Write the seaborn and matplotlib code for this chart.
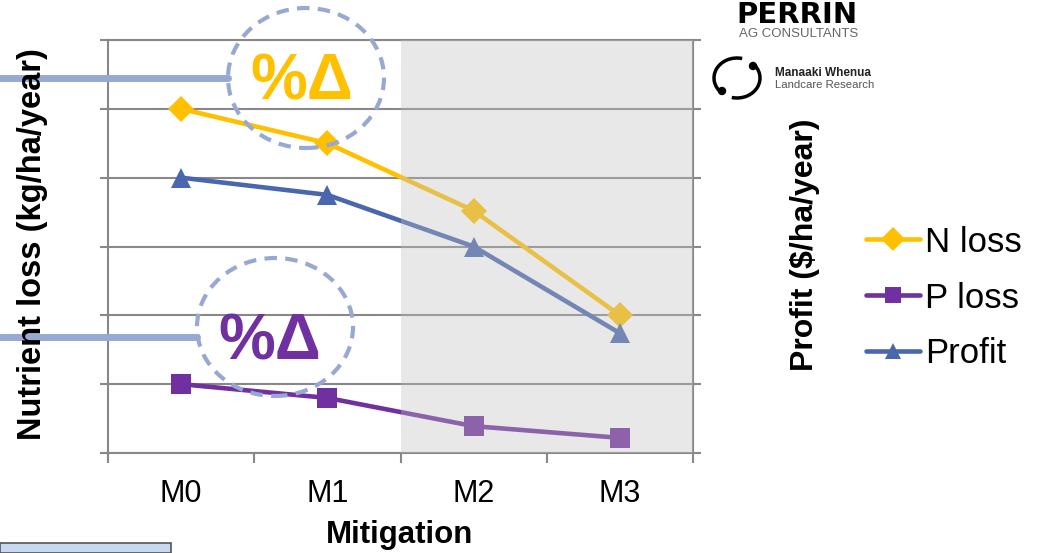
import numpy as np
import pandas as pd
import matplotlib
matplotlib.use("Agg")
import matplotlib.pyplot as plt
from matplotlib.patches import Ellipse, Rectangle, Arc, Circle
from matplotlib.lines import Line2D
import seaborn as sns

# ---- data ----
categories = ["M0", "M1", "M2", "M3"]
n_loss = [5.0, 4.5, 3.52, 2.0]
p_loss = [1.0, 0.8, 0.39, 0.22]
profit = [4.0, 3.75, 3.0, 1.74]
series_names = ["N loss", "P loss", "Profit"]
y_ticks = [0, 1, 2, 3, 4, 5, 6]

colors = {"N loss": "#FFC000", "P loss": "#7030A0", "Profit": "#4A66AC"}
markers = {"N loss": "D", "P loss": "s", "Profit": "^"}

df = pd.DataFrame({
    "Mitigation": categories * 3,
    "value": n_loss + p_loss + profit,
    "series": [s for s in series_names for _ in categories],
})

sns.set_theme(style="white")
plt.rcParams["font.family"] = ["Liberation Sans", "DejaVu Sans"]
plt.rcParams["text.color"] = "black"
plt.rcParams["xtick.labelcolor"] = "black"

W, H = 1043, 553
fig = plt.figure(figsize=(W / 100, H / 100), dpi=100)
ax = fig.add_axes([108 / W, 100 / H, 585 / W, 413 / H])

sns.lineplot(data=df, x="Mitigation", y="value", hue="series", style="series",
             palette=colors, markers=markers, dashes=False, linewidth=3.3,
             markersize=15, markeredgewidth=0, ax=ax, sort=False)
for ln in ax.lines:
    if ln.get_marker() == "D":
        ln.set_markersize(13)

handles, labels = ax.get_legend_handles_labels()
ax.get_legend().remove()

ax.set_xlim(-0.5, len(categories) - 0.5)
ax.set_ylim(y_ticks[0], y_ticks[-1])
ax.set_yticks(y_ticks)
ax.set_yticklabels([])
ax.set_xticks(range(len(categories)))
ax.set_xticklabels(categories, fontsize=22, color="black")
ax.set_xticks(np.arange(-0.5, len(categories)), minor=True)
ax.tick_params(axis="x", which="major", length=0, pad=19)
ax.tick_params(axis="x", which="minor", length=7, width=1.5, color="#888888", direction="out", bottom=True)
ax.tick_params(axis="y", which="major", length=6, width=1.5, color="#888888", direction="out",
               left=True, right=True)
ax.set_xlabel("")
ax.set_ylabel("")
ax.grid(axis="y", color="#888888", linewidth=1.5)
ax.grid(axis="x", visible=False)
for side in ["left", "right", "bottom", "top"]:
    ax.spines[side].set_visible(True)
    ax.spines[side].set_color("#888888")
    ax.spines[side].set_linewidth(1.5)

# shaded overlay for M2-M3
ax.axvspan(1.5, len(categories) - 0.5, color="#C0C0C0", alpha=0.36, lw=0, zorder=3)

# axis labels
fig.text(33 / W, 1 - 244 / H, "Nutrient loss (kg/ha/year)", rotation=90, ha="center",
         va="center", fontsize=23.5, fontweight="bold", color="black")
fig.text(805 / W, 1 - 245 / H, "Profit ($/ha/year)", rotation=90, ha="center",
         va="center", fontsize=23, fontweight="bold", color="black")
fig.text(400 / W, 1 - 535 / H, "Mitigation", ha="center", va="center",
         fontsize=22.5, fontweight="bold", color="black")

# legend
leg = ax.legend(handles, labels, loc="center left", bbox_to_anchor=(849 / W, 1 - 298 / H),
                bbox_transform=fig.transFigure, frameon=False, fontsize=25,
                handlelength=1.55, handletextpad=0.15, labelspacing=0.66, borderpad=0)
for h in leg.legend_handles:
    h.set_markersize(12)
for t in leg.get_texts():
    t.set_color("black")

# %Delta callouts
callout = "#97A9D3"
fig.patches.append(Ellipse((306 / W, 1 - 78 / H), 156 / W, 140 / H, transform=fig.transFigure,
                           fill=False, ls=(0, (3, 2)), lw=3, ec=callout, figure=fig))
fig.patches.append(Ellipse((275 / W, 1 - 327 / H), 156 / W, 138 / H, transform=fig.transFigure,
                           fill=False, ls=(0, (3, 2)), lw=3, ec=callout, figure=fig))
fig.lines.append(Line2D([0, 228 / W], [1 - 78 / H, 1 - 78 / H], transform=fig.transFigure,
                        lw=5, color=callout, figure=fig))
fig.lines.append(Line2D([0, 197 / W], [1 - 337 / H, 1 - 337 / H], transform=fig.transFigure,
                        lw=5, color=callout, figure=fig))
fig.text(302 / W, 1 - 82 / H, "%Δ", ha="center", va="center", fontsize=46,
         fontweight="bold", color="#FFC000")
fig.text(270 / W, 1 - 342 / H, "%Δ", ha="center", va="center", fontsize=46,
         fontweight="bold", color="#7030A0")

# bottom-left box
fig.patches.append(Rectangle((0, 0), 171 / W, 10 / H, transform=fig.transFigure,
                             fc="#C6D9F1", ec="#555555", lw=1.2, figure=fig))

# logos
fig.text(797 / W, 1 - 23 / H, "PERRIN", ha="center", va="baseline", fontsize=21,
         fontweight="heavy", color="black", family="DejaVu Sans")
fig.text(799 / W, 1 - 37 / H, "AG CONSULTANTS", ha="center", va="baseline", fontsize=9.5,
         color="#666666")
cx, cy = 737 / 100, (H - 78) / 100
fig.patches.append(Arc((cx, cy), 0.46, 0.40, theta1=75, theta2=225, lw=2.5, color="black",
                       transform=fig.dpi_scale_trans, figure=fig))
fig.patches.append(Arc((cx, cy), 0.46, 0.40, theta1=255, theta2=45, lw=2.5, color="black",
                       transform=fig.dpi_scale_trans, figure=fig))
fig.patches.append(Circle((753 / 100, (H - 66) / 100), 0.035, color="black",
                          transform=fig.dpi_scale_trans, figure=fig))
fig.patches.append(Circle((722 / 100, (H - 91) / 100), 0.035, color="black",
                          transform=fig.dpi_scale_trans, figure=fig))
fig.text(775 / W, 1 - 73 / H, "Manaaki Whenua", ha="left", va="center", fontsize=8.5,
         fontweight="bold", color="#222222")
fig.text(775 / W, 1 - 85 / H, "Landcare Research", ha="left", va="center", fontsize=8.2,
         color="#555555")

fig.savefig("out.png", dpi=100)
